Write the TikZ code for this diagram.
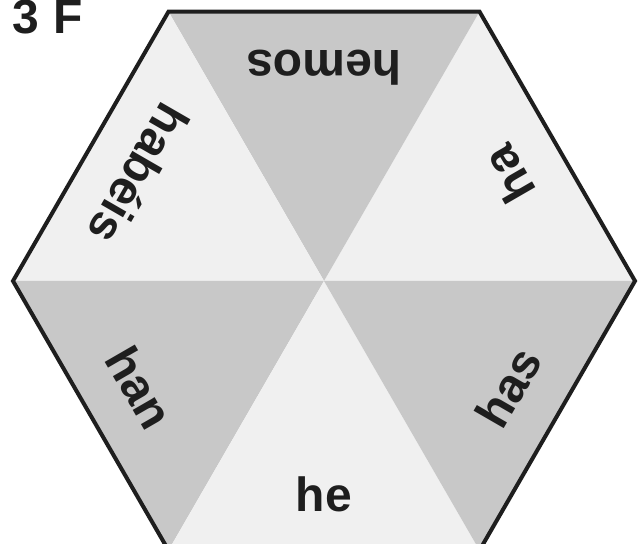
\documentclass[tikz,border=0pt]{standalone}
\usepackage{fontspec}
\setmainfont{Liberation Sans}
\usepackage{xcolor}
\usetikzlibrary{positioning,calc}
\definecolor{lightwedge}{RGB}{240,240,240}
\definecolor{darkwedge}{RGB}{200,200,200}
\definecolor{rimcolor}{RGB}{30,30,30}

\begin{document}
\begin{tikzpicture}[x=0.5pt,y=0.5pt,every node/.style={font=\bfseries\fontsize{24}{28}\selectfont,text=rimcolor}]
\useasboundingbox (0,0) rectangle (641,544);
\coordinate (c) at (324,263);
\foreach \a/\col in {0/lightwedge,60/darkwedge,120/lightwedge,180/darkwedge,240/lightwedge,300/darkwedge}
  \fill[\col] (c) -- ($(c)+(\a:311)$) -- ($(c)+(\a+60:311)$) -- cycle;
\draw[rimcolor,line width=2pt,line join=miter,shift={(c)}] (0:311)--(60:311)--(120:311)--(180:311)--(240:311)--(300:311)--cycle;
\node[rotate=120](ha) at ($(c)+(30:213)$){ha};
\node[rotate=180](hemos) at ($(c)+(90:213)$){hemos};
\node[rotate=240](habeis) at ($(c)+(150:213)$){habéis};
\node[rotate=300](han) at ($(c)+(210:213)$){han};
\node(he) at ($(c)+(270:213)$){he};
\node[rotate=60](has) at ($(c)+(330:213)$){has};
\node[anchor=base west,inner sep=0pt,font=\bfseries\fontsize{24}{28}\selectfont](tag) at (12,510){3\kern7pt F};
\end{tikzpicture}
\end{document}
